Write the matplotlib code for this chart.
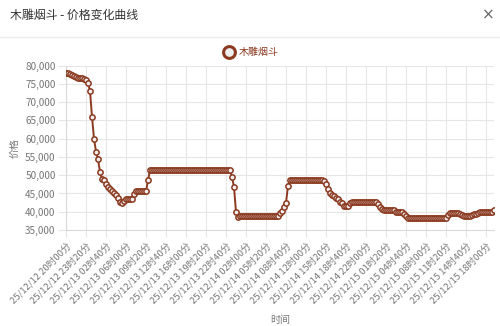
"""Price history chart for 木雕烟斗 (one point every 20 minutes)."""

import matplotlib

matplotlib.use("Agg")

import matplotlib.pyplot as plt
from matplotlib.lines import Line2D
from matplotlib.ticker import FuncFormatter

plt.rcParams["font.family"] = ["Noto Sans CJK SC", "DejaVu Sans"]

TITLE = "木雕烟斗 - 价格变化曲线"
SERIES_NAME = "木雕烟斗"

# prices, 10 per row (one row = one labelled tick interval)
prices = [
    78100, 78000, 77800, 77400, 77100, 76900, 76700, 76600, 76500, 76300,
    76000, 75300, 73100, 66000, 60000, 56500, 54400, 50900, 49100, 48800,
    47600, 46900, 46200, 45600, 45000, 44500, 43900, 42800, 42400, 43000,
    43600, 43600, 43600, 43600, 44800, 45600, 45600, 45600, 45600, 45600,
    45600, 48600, 51500, 51500, 51500, 51500, 51500, 51500, 51500, 51500,
    51500, 51500, 51500, 51500, 51500, 51500, 51500, 51500, 51500, 51500,
    51500, 51500, 51500, 51500, 51500, 51500, 51500, 51500, 51500, 51500,
    51500, 51500, 51500, 51500, 51500, 51500, 51500, 51500, 51500, 51500,
    51500, 51500, 51500, 49500, 46800, 39900, 38600, 38800, 38800, 38800,
    38800, 38800, 38800, 38800, 38800, 38800, 38800, 38800, 38800, 38800,
    38800, 38800, 38800, 38800, 38800, 38800, 38800, 39700, 40300, 41200,
    42500, 47000, 48800, 48800, 48800, 48800, 48800, 48800, 48800, 48800,
    48800, 48800, 48800, 48800, 48800, 48800, 48800, 48800, 48800, 48300,
    47600, 46300, 45000, 44600, 44200, 43900, 43400, 42800, 42300, 41700,
    41500, 41600, 42400, 42600, 42600, 42600, 42600, 42600, 42600, 42600,
    42600, 42600, 42600, 42600, 42600, 42600, 42000, 41300, 40700, 40400,
    40400, 40400, 40400, 40400, 40400, 39800, 39800, 39800, 39800, 39300,
    38700, 38400, 38400, 38400, 38400, 38400, 38400, 38400, 38400, 38400,
    38400, 38400, 38400, 38400, 38400, 38400, 38400, 38400, 38400, 38400,
    38400, 39200, 39700, 39700, 39700, 39700, 39700, 39500, 39000, 38700,
    38700, 38700, 38700, 39000, 39300, 39400, 39600, 39800, 39800, 39800,
    39800, 39800, 39800, 40000, 40400,
]

tick_labels = [
    "25/12/12 20时00分", "25/12/12 23时20分", "25/12/13 02时40分",
    "25/12/13 06时00分", "25/12/13 09时20分", "25/12/13 12时40分",
    "25/12/13 16时00分", "25/12/13 19时20分", "25/12/13 22时40分",
    "25/12/14 02时00分", "25/12/14 05时20分", "25/12/14 08时40分",
    "25/12/14 12时00分", "25/12/14 15时20分", "25/12/14 18时40分",
    "25/12/14 22时00分", "25/12/15 01时20分", "25/12/15 04时40分",
    "25/12/15 08时00分", "25/12/15 11时20分", "25/12/15 14时40分",
    "25/12/15 18时00分",
]
tick_step = 10
y_ticks = [35000, 40000, 45000, 50000, 55000, 60000, 65000, 70000, 75000, 80000]

LINE = "#8b3a20"
GRID = "#e6e6e6"
TEXT = "#767676"

W, H = 500, 326
fig = plt.figure(figsize=(W / 100, H / 100), dpi=100)

# dialog header
fig.text(10 / W, 1 - 15 / H, TITLE, fontsize=8.6, color="#333333", va="center")
fig.text(488 / W, 1 - 15 / H, "×", fontsize=11, color="#666666",
         va="center", ha="center", family="DejaVu Sans")
fig.add_artist(Line2D([0, 1], [1 - 37 / H, 1 - 37 / H], color="#eeeeee", lw=1))

# legend
fig.add_artist(Line2D([229 / W], [1 - 51.5 / H], marker="o", ms=8.5, mew=2.2,
                      mec=LINE, mfc="#eeeeee", ls="none"))
fig.text(239 / W, 1 - 51.5 / H, SERIES_NAME, fontsize=7.2, color=LINE, va="center")

left, right, top, bottom = 66, 494, 65.7, 230
ax = fig.add_axes([left / W, 1 - bottom / H, (right - left) / W, (bottom - top) / H])

x = list(range(len(prices)))
ax.plot(x, prices, color=LINE, lw=1.4, marker="o", ms=3.8, mew=1.1,
        mfc="#f0eeee", mec=LINE, zorder=3)

ax.set_xlim(0, len(prices) - 1)
ax.set_ylim(y_ticks[0], y_ticks[-1])
ax.set_yticks(y_ticks)
ax.yaxis.set_major_formatter(FuncFormatter(lambda v, _: f"{int(v):,}"))
ax.set_xticks(range(0, len(prices), tick_step))
ax.set_xticklabels(tick_labels, rotation=45, ha="right", va="top",
                   rotation_mode="anchor")

ax.grid(True, color=GRID, lw=0.8)
ax.set_axisbelow(True)
for side in ("top", "right"):
    ax.spines[side].set_visible(False)
for side in ("left", "bottom"):
    ax.spines[side].set_color("#d9d9d9")
ax.tick_params(axis="y", length=6, width=0.8, color=GRID, pad=1.5,
               labelsize=7.2, labelcolor=TEXT)
ax.tick_params(axis="x", length=5, width=0.8, color=GRID, pad=3,
               labelsize=6.8, labelcolor=TEXT)

ax.set_ylabel("价格", fontsize=7.2, color=TEXT, labelpad=4)
ax.set_xlabel("时间", fontsize=7.2, color=TEXT)
ax.xaxis.set_label_coords(0.5, -(315 - bottom) / (bottom - top))

fig.savefig("out.png", dpi=100)
plt.close(fig)
